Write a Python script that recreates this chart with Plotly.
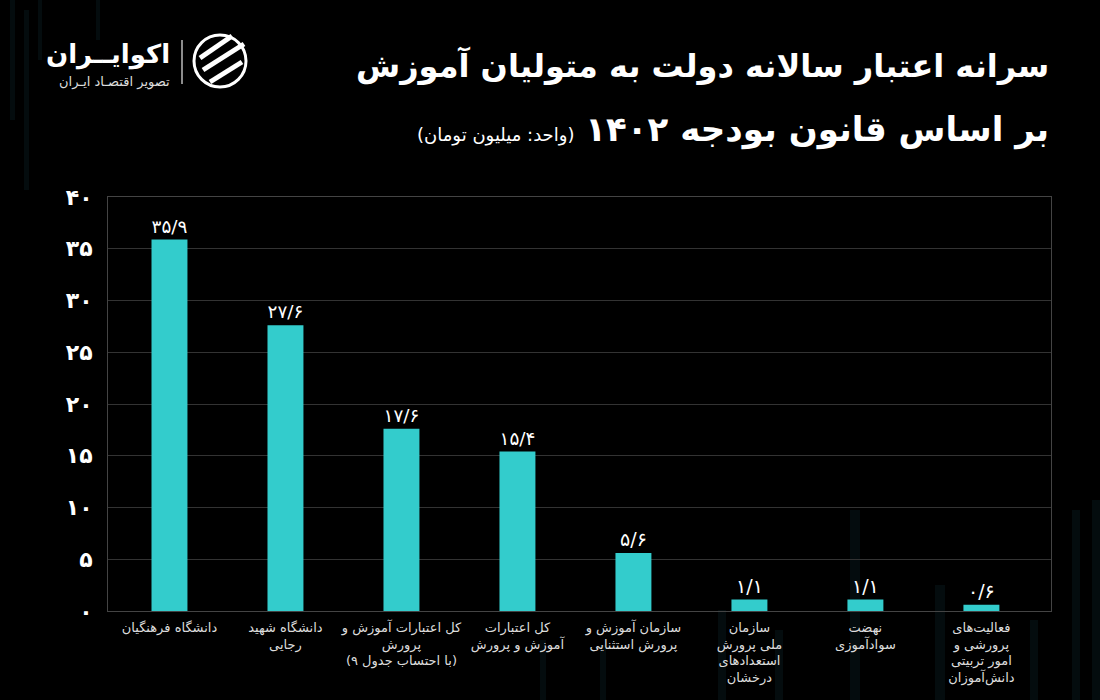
import plotly.graph_objects as go

categories = [
    "دانشگاه فرهنگیان",
    "دانشگاه شهید<br>رجایی",
    "کل اعتبارات آموزش و<br>پرورش<br>(با احتساب جدول ۹)",
    "کل اعتبارات<br>آموزش و پرورش",
    "سازمان آموزش و<br>پرورش استثنایی",
    "سازمان<br>ملی پرورش<br>استعدادهای<br>درخشان",
    "نهضت<br>سوادآموزی",
    "فعالیت‌های<br>پرورشی و<br>امور تربیتی<br>دانش‌آموزان",
]
values = [35.9, 27.6, 17.6, 15.4, 5.6, 1.1, 1.1, 0.6]
y_ticks = [0, 5, 10, 15, 20, 25, 30, 35, 40]

FA = str.maketrans("0123456789.", "۰۱۲۳۴۵۶۷۸۹/")


def fa(v):
    return f"{v:g}".translate(FA)


FONT = "DejaVu Sans"
BAR = "#33CCCC"
L, R, T, B, W, H = 108, 49, 197, 89, 1100, 700
PW, PH = W - L - R, H - T - B


def px(x):
    return (x - L) / PW


def py(y):
    return (H - B - y) / PH


fig = go.Figure()
fig.add_trace(go.Bar(
    x=list(range(len(categories))),
    y=values,
    marker=dict(color=BAR, line=dict(width=0)),
    width=0.31,
    text=[fa(v) for v in values],
    textposition="outside",
    textfont=dict(family=FONT, size=19, color="#ffffff"),
    cliponaxis=False,
    hoverinfo="skip",
))

# faint decorative background stripes (pixel positions of the page)
stripes = [
    (10, 15, 0, 120), (24, 29, 10, 190), (38, 42, 0, 60), (96, 100, 0, 40),
    (850, 860, 510, 700), (1072, 1080, 510, 700), (935, 945, 585, 700),
    (718, 726, 610, 700), (775, 783, 630, 700), (1030, 1038, 620, 700),
    (1092, 1100, 500, 700), (540, 546, 640, 700), (600, 606, 645, 700),
]
for x0, x1, y0, y1 in stripes:
    fig.add_shape(type="rect", xref="paper", yref="paper", x0=px(x0), x1=px(x1), y0=py(y1), y1=py(y0),
                  fillcolor="rgba(20,55,66,0.22)", line=dict(width=0), layer="below")

fig.update_layout(
    width=W, height=H,
    paper_bgcolor="#000000", plot_bgcolor="rgba(0,0,0,0)",
    margin=dict(l=L, r=R, t=T, b=B),
    showlegend=False,
    font=dict(family=FONT, color="#ffffff"),
)
fig.update_xaxes(
    tickmode="array",
    tickvals=list(range(len(categories))),
    ticktext=categories,
    range=[-0.53, 7.6],
    tickfont=dict(family=FONT, size=13, color="#dddddd"),
    showgrid=False, showline=True, linecolor="#444444", linewidth=1, mirror=True,
    ticks="", ticklabelstandoff=4,
)
fig.update_yaxes(
    range=[0, 40],
    tickmode="array",
    tickvals=y_ticks,
    ticktext=[fa(v) for v in y_ticks],
    tickfont=dict(family=FONT, size=22, color="#ffffff", weight="bold"),
    showgrid=True, gridcolor="#333333", gridwidth=1,
    showline=True, linecolor="#444444", linewidth=1, mirror=True,
    zeroline=False, ticks="", ticklabelstandoff=10,
)

# titles
fig.add_annotation(xref="paper", yref="paper", x=px(1051), y=py(66), xanchor="right", yanchor="middle",
                   text="<b>سرانه اعتبار سالانه دولت به متولیان آموزش</b>", showarrow=False,
                   font=dict(family=FONT, size=32, color="#ffffff"))
fig.add_annotation(xref="paper", yref="paper", x=px(1051), y=py(130), xanchor="right", yanchor="middle",
                   text="<b>بر اساس قانون بودجه ۱۴۰۲</b> <span style='font-size:18px'>(واحد: میلیون تومان)</span>",
                   showarrow=False, font=dict(family=FONT, size=34, color="#ffffff"))

# logo
fig.add_annotation(xref="paper", yref="paper", x=px(172), y=py(54), xanchor="right", yanchor="middle",
                   text="<b>اکوایــران</b>", showarrow=False,
                   font=dict(family=FONT, size=26, color="#ffffff"))
fig.add_annotation(xref="paper", yref="paper", x=px(172), y=py(82), xanchor="right", yanchor="middle",
                   text="تصویر اقتصـاد ایـران", showarrow=False,
                   font=dict(family=FONT, size=13, color="#dddddd"))
fig.add_shape(type="line", xref="paper", yref="paper", x0=px(182), x1=px(182), y0=py(40), y1=py(84),
              line=dict(width=1.5, color="#bbbbbb"))
fig.add_shape(type="circle", xref="paper", yref="paper", x0=px(194), x1=px(246), y0=py(87), y1=py(35),
              line=dict(width=3, color="#ffffff"))
for (ax, ay, bx, by) in [(200, 58, 232, 36), (203, 70, 244, 44), (210, 82, 242, 62)]:
    fig.add_shape(type="line", xref="paper", yref="paper", x0=px(ax), x1=px(bx), y0=py(ay), y1=py(by),
                  line=dict(width=5, color="#ffffff"))

fig.write_html("out.html", config={"displayModeBar": False},
               post_script="document.body.style.margin='0';document.body.style.background='#000';")
